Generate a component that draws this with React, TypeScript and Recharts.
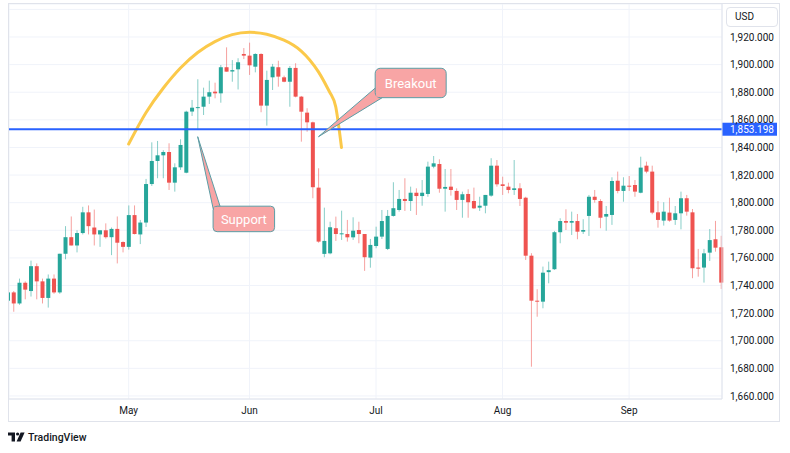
import React from "react";
import {
  ComposedChart,
  Bar,
  Line,
  XAxis,
  YAxis,
  CartesianGrid,
  ReferenceLine,
  ReferenceDot,
} from "recharts";

// trading days per month (2021)
const aprDays = [2, 5, 6, 7, 8, 9, 12, 13, 14, 15, 16, 19, 20, 21, 22, 23, 26, 27, 28, 29, 30];
const mayDays = [3, 4, 5, 6, 7, 10, 11, 12, 13, 14, 17, 18, 19, 20, 21, 24, 25, 26, 27, 28, 31];
const junDays = [1, 2, 3, 4, 7, 8, 9, 10, 11, 14, 15, 16, 17, 18, 21, 22, 23, 24, 25, 28, 29, 30];
const julDays = [1, 2, 5, 6, 7, 8, 9, 12, 13, 14, 15, 16, 19, 20, 21, 22, 23, 26, 27, 28, 29, 30];
const augDays = [2, 3, 4, 5, 6, 9, 10, 11, 12, 13, 16, 17, 18, 19, 20, 23, 24, 25, 26, 27, 30, 31];
const sepDays = [1, 2, 3, 6, 7, 8, 9, 10, 13, 14, 15, 16, 17, 20, 21, 22, 23];

const opens = [
  1729, 1735, 1727, 1742, 1736, 1754, 1743, 1731, 1745, 1735,
  1763, 1775, 1769, 1778, 1793, 1782, 1777, 1780, 1775, 1781,
  1771.5, 1768, 1791, 1777, 1785.6, 1813.5, 1830.2, 1834.3, 1836.7, 1814.5,
  1825.6, 1821.7, 1866, 1868.8, 1869.5, 1876.8, 1880.4, 1879.2, 1898.1, 1895,
  1896.6, 1907.7, 1906.5, 1898.5, 1907.7, 1870.3, 1890.8, 1898.1, 1890.8, 1887.6,
  1897.6, 1876.8, 1865.2, 1858.2, 1810.9, 1762.9, 1763.3, 1781.5, 1777.3, 1777.3,
  1774.9, 1780.2, 1777.3, 1760.2, 1768.6, 1775.4, 1766.5, 1790.4, 1794.7, 1802.7,
  1801.2, 1807.2, 1804.8, 1806.3, 1826.1, 1828, 1810.1, 1811.6, 1808.5, 1802,
  1806.3, 1801.2, 1796.4, 1797.8, 1805.1, 1826.8, 1813.3, 1811.6, 1809.2, 1810.4,
  1803.6, 1761.6, 1729, 1728.3, 1749.7, 1751.8, 1778.6, 1786.7, 1785.5, 1786.7,
  1779, 1790.4, 1804.3, 1801.2, 1789.9, 1791.1, 1815.9, 1808.5, 1812.3, 1812.8,
  1807.2, 1826.8, 1822.5, 1793, 1787, 1792.8, 1787.5, 1792.3, 1803.2, 1793,
  1753, 1753, 1763.8, 1773.5, 1767.7,
];
const highs = [
  1736, 1736, 1745, 1743, 1758, 1756, 1745, 1748, 1748, 1763,
  1783, 1790, 1780, 1797, 1798, 1795, 1780, 1785, 1782, 1790,
  1772, 1798, 1798, 1787.5, 1817.2, 1843.7, 1844.7, 1838, 1843, 1828.5,
  1845.9, 1866.6, 1874.4, 1889.4, 1883.3, 1888.4, 1886.9, 1899.7, 1912.5, 1903.3,
  1904.6, 1912, 1915.9, 1908.2, 1908.2, 1895.6, 1900.5, 1902.8, 1892, 1899,
  1901, 1877.3, 1868.4, 1858.7, 1824.9, 1796.4, 1786.2, 1789.9, 1794.2, 1787.5,
  1789.4, 1786.2, 1777.3, 1773.7, 1782.6, 1794.7, 1794.7, 1814.8, 1809.2, 1817.7,
  1811.6, 1810.4, 1816.4, 1829.7, 1833.8, 1831.4, 1824.4, 1824.4, 1810.4, 1808,
  1809.7, 1810.9, 1804.3, 1805.6, 1832.2, 1830.9, 1818.8, 1814.5, 1830.9, 1814.1,
  1804.3, 1763.4, 1737.3, 1753.7, 1757.3, 1779.5, 1788.7, 1795.2, 1793.5, 1791.8,
  1788, 1805.6, 1809.2, 1802.5, 1797.6, 1818.4, 1822.5, 1818.4, 1819.3, 1816.4,
  1833.3, 1829.7, 1826.8, 1801.2, 1800.3, 1803.6, 1797.6, 1808, 1805.6, 1795.4,
  1766.5, 1766.5, 1780.9, 1786.8, 1776,
];
const lows = [
  1727, 1721, 1726, 1730, 1732, 1730, 1727, 1724, 1734, 1734,
  1759, 1769, 1764, 1777, 1777, 1769, 1768, 1774, 1762, 1756,
  1764, 1766, 1777, 1770, 1782.4, 1812.1, 1817.7, 1817.7, 1809.2, 1808,
  1823.7, 1821.3, 1862.8, 1852.6, 1863.5, 1871.5, 1875.6, 1872.4, 1894.9, 1887.6,
  1882, 1904, 1892.5, 1894.4, 1865.5, 1855.8, 1881.6, 1884, 1887.2, 1869.5,
  1876.3, 1844.2, 1851.4, 1803.2, 1771, 1760.5, 1762.6, 1772.3, 1773, 1771.8,
  1773, 1770.6, 1750.6, 1752.9, 1767, 1773.7, 1765.7, 1789.9, 1793.5, 1794,
  1794, 1791.1, 1797.8, 1804.3, 1824.9, 1807.2, 1793.5, 1805.1, 1794.7, 1789.1,
  1789.1, 1795.4, 1794, 1792.3, 1804.3, 1811.6, 1805.6, 1806.8, 1805.6, 1797.6,
  1758.5, 1681.2, 1717.4, 1723.5, 1741.6, 1751.3, 1770.6, 1780.2, 1776.6, 1773.5,
  1777.3, 1775.9, 1800, 1781.5, 1779.7, 1783.9, 1806.8, 1800.7, 1808.5, 1804.3,
  1806.8, 1821.3, 1791.6, 1781.9, 1783.4, 1786.2, 1783.9, 1780.7, 1790.6, 1745.3,
  1746.4, 1742.1, 1757.8, 1764.5, 1737.5,
];
const closes = [
  1735, 1727, 1742, 1737, 1754, 1743, 1731, 1745, 1735, 1763,
  1775, 1769, 1778, 1793, 1783, 1777, 1780, 1775, 1781, 1771,
  1768, 1791, 1777.3, 1785.6, 1813.5, 1830.2, 1834.3, 1836.7, 1814.5, 1825.6,
  1841.8, 1865.9, 1868.8, 1869.2, 1876.8, 1880, 1879.2, 1898.1, 1894.9, 1896,
  1901.7, 1906.5, 1899.5, 1907.7, 1870.3, 1888.9, 1898.5, 1891.3, 1887.6, 1897.6,
  1876.8, 1865.9, 1858.2, 1811.2, 1771.8, 1772.3, 1782.2, 1777.3, 1777.8, 1774.9,
  1779.7, 1777.3, 1760.5, 1769.4, 1775.4, 1786.7, 1790.4, 1796, 1802.7, 1801.2,
  1807.2, 1804.8, 1807.2, 1826.1, 1828.5, 1810.1, 1811.4, 1809.2, 1802, 1806.1,
  1800.3, 1795.9, 1797.8, 1805.6, 1826.8, 1813.3, 1812.1, 1809.2, 1810.4, 1802.7,
  1761.6, 1729, 1728.3, 1749.3, 1751.1, 1778.6, 1786.7, 1785.5, 1786.7, 1779,
  1780.2, 1804.3, 1802, 1789.1, 1791.8, 1815.7, 1808.5, 1812.3, 1812, 1808,
  1825.4, 1822.5, 1792.8, 1787.5, 1793.5, 1787, 1792.3, 1803.2, 1793.5, 1752.5,
  1752.2, 1763.3, 1772.9, 1767.4, 1742.1,
];

// hand-drawn rounded top
const arcDates = [
  "2021-05-03", "2021-05-06", "2021-05-11", "2021-05-14", "2021-05-19",
  "2021-05-24", "2021-05-27", "2021-06-01", "2021-06-04", "2021-06-09",
  "2021-06-14", "2021-06-17", "2021-06-21", "2021-06-22", "2021-06-23",
];
const arcValues = [
  1842.5, 1865.1, 1882.9, 1897.5, 1908.8, 1916.7, 1921.7, 1923.4, 1922, 1917.7,
  1909.8, 1894.7, 1879.7, 1869.5, 1840,
];

const levelPrice = 1853.198;
const priceTicks = [1660, 1680, 1700, 1720, 1740, 1760, 1780, 1800, 1820, 1840, 1860, 1880, 1900, 1920, 1940];
const monthTicks = ["2021-05-03", "2021-06-01", "2021-07-01", "2021-08-02", "2021-09-01"];
const monthLabels = ["May", "Jun", "Jul", "Aug", "Sep"];

const GREEN = "#26a69a";
const RED = "#ef5350";
const NOTE_FILL = "#f8a5a5";
const NOTE_EDGE = "#5b9ea6";
const FONT = "Roboto, 'Noto Sans', sans-serif";

const pad = (n: number) => (n < 10 ? "0" + n : "" + n);
const dates = [
  ...aprDays.map((d) => `2021-04-${pad(d)}`),
  ...mayDays.map((d) => `2021-05-${pad(d)}`),
  ...junDays.map((d) => `2021-06-${pad(d)}`),
  ...julDays.map((d) => `2021-07-${pad(d)}`),
  ...augDays.map((d) => `2021-08-${pad(d)}`),
  ...sepDays.map((d) => `2021-09-${pad(d)}`),
];

const data = dates.map((date, i) => {
  const a = arcDates.indexOf(date);
  return {
    date,
    open: opens[i],
    high: highs[i],
    low: lows[i],
    close: closes[i],
    arc: a >= 0 ? arcValues[a] : null,
  };
});

const fmtPrice = (v: number) =>
  v.toLocaleString("en-US", { minimumFractionDigits: 3, maximumFractionDigits: 3 });

const Candle = (props: any) => {
  const { x, y, width, height, payload } = props;
  if (!payload) return null;
  const { open, high, low, close } = payload;
  const top = Math.min(y, y + height);
  const h = Math.abs(height);
  const k = high > low ? h / (high - low) : 0;
  const py = (v: number) => top + (high - v) * k;
  const cx = x + width / 2;
  const color = close >= open ? GREEN : RED;
  const bodyTop = py(Math.max(open, close));
  const bodyH = Math.max(1, Math.abs(py(open) - py(close)));
  return (
    <g>
      <line x1={cx} x2={cx} y1={top} y2={top + h} stroke={color} strokeOpacity={0.55} strokeWidth={1} />
      <rect x={cx - 2} y={bodyTop} width={4} height={bodyH} fill={color} />
    </g>
  );
};

const SupportNote = ({ cx, cy }: any) => {
  const bx = cx + 15.4;
  const by = cy + 69.5;
  return (
    <g>
      <polygon
        points={`${cx},${cy} ${cx + 22.5},${by + 0.5} ${cx + 15.6},${by + 3}`}
        fill={NOTE_FILL}
        stroke={NOTE_EDGE}
        strokeWidth={1}
        strokeLinejoin="round"
      />
      <rect x={bx} y={by} width={61.5} height={25.5} rx={4} fill={NOTE_FILL} stroke={NOTE_EDGE} strokeWidth={1} />
      <polygon points={`${bx + 1},${by + 3.5} ${bx + 7},${by + 1} ${bx + 1},${by + 1}`} fill={NOTE_FILL} />
      <text x={bx + 30.75} y={by + 13.2} fill="#ffffff" fontSize={13} fontFamily={FONT} textAnchor="middle" dominantBaseline="central">
        Support
      </text>
    </g>
  );
};

const BreakoutNote = ({ cx, cy }: any) => {
  const bx = cx + 56.7;
  const by = cy - 68.4;
  return (
    <g>
      <polygon
        points={`${cx},${cy} ${bx + 0.5},${cy - 49} ${bx + 7},${cy - 39}`}
        fill={NOTE_FILL}
        stroke={NOTE_EDGE}
        strokeWidth={1}
        strokeLinejoin="round"
      />
      <rect x={bx} y={by} width={71} height={29.4} rx={5} fill={NOTE_FILL} stroke={NOTE_EDGE} strokeWidth={1} />
      <polygon points={`${bx + 1},${cy - 48} ${bx + 1},${cy - 40} ${bx + 6},${cy - 40}`} fill={NOTE_FILL} />
      <text x={bx + 35.5} y={by + 14.9} fill="#ffffff" fontSize={13} fontFamily={FONT} textAnchor="middle" dominantBaseline="central">
        Breakout
      </text>
    </g>
  );
};

const LevelLabel = (props: any) => {
  const vb = props.viewBox || {};
  const x0 = vb.x + vb.width;
  return (
    <g>
      <rect x={x0} y={vb.y - 6.5} width={55} height={13} fill="#2962ff" />
      <text x={x0 + 8} y={vb.y + 0.5} fill="#ffffff" fontSize={10} fontFamily={FONT} dominantBaseline="central">
        {fmtPrice(levelPrice)}
      </text>
    </g>
  );
};

export default function App() {
  return (
    <div style={{ position: "absolute", left: 0, top: 0, width: 790, height: 453, background: "#ffffff", fontFamily: FONT }}>
      <div
        style={{
          position: "absolute",
          left: 8,
          top: 3,
          width: 772,
          height: 419,
          boxSizing: "border-box",
          border: "1px solid #e0e3eb",
          overflow: "hidden",
        }}
      >
        <ComposedChart width={770} height={417} data={data} margin={{ top: 0, right: 0, bottom: 0, left: 0 }}>
          <CartesianGrid stroke="#f0f3fa" />
          <XAxis
            dataKey="date"
            type="category"
            ticks={monthTicks}
            interval={0}
            tickFormatter={(v) => monthLabels[monthTicks.indexOf(v)] || ""}
            height={22}
            padding={{ left: -4, right: -2 }}
            tickSize={0}
            tickMargin={8}
            axisLine={{ stroke: "#e0e3eb" }}
            tickLine={false}
            tick={{ fill: "#131722", fontSize: 10, fontFamily: FONT }}
          />
          <YAxis
            orientation="right"
            type="number"
            domain={[1657.8, 1943.9]}
            ticks={priceTicks}
            width={57}
            tickFormatter={(v) => (v === 1940 ? "" : fmtPrice(v))}
            tickSize={0}
            tickMargin={8}
            axisLine={{ stroke: "#e0e3eb" }}
            tickLine={false}
            tick={{ fill: "#131722", fontSize: 10, fontFamily: FONT, textAnchor: "start" }}
          />
          <Bar dataKey={(d: any) => [d.low, d.high]} barSize={4} shape={(p: any) => <Candle {...p} />} isAnimationActive={false} />
          <Line
            dataKey="arc"
            type="natural"
            connectNulls
            dot={false}
            activeDot={false}
            stroke="#fbc94a"
            strokeWidth={3}
            strokeLinecap="round"
            isAnimationActive={false}
          />
          <ReferenceDot x="2021-05-19" y={1847.8} r={0} ifOverflow="visible" shape={(p: any) => <SupportNote {...p} />} />
          <ReferenceDot x="2021-06-17" y={1847.8} r={0} ifOverflow="visible" shape={(p: any) => <BreakoutNote {...p} />} />
          <ReferenceLine y={levelPrice} stroke="#2962ff" strokeWidth={2} ifOverflow="visible" label={(p: any) => <LevelLabel {...p} />} />
        </ComposedChart>
      </div>
      <div
        style={{
          position: "absolute",
          left: 726,
          top: 7,
          width: 52,
          height: 20,
          boxSizing: "border-box",
          border: "1px solid #e0e3eb",
          borderRadius: 4,
          background: "#ffffff",
          fontSize: 10,
          lineHeight: "18px",
          paddingLeft: 8,
          color: "#131722",
        }}
      >
        USD
      </div>
      <div style={{ position: "absolute", left: 8, top: 430, height: 14, display: "flex", alignItems: "center" }}>
        <svg width={18} height={12} viewBox="0 0 18 12">
          <path d="M0 1.5 H7 V10.5 H3.6 V4.6 H0 Z" fill="#131722" />
          <circle cx={9.6} cy={3} r={1.6} fill="#131722" />
          <path d="M12.6 1.5 H16.6 L12.6 10.5 H8.6 Z" fill="#131722" />
        </svg>
        <span style={{ marginLeft: 2, fontSize: 10.5, fontWeight: 500, color: "#131722" }}>TradingView</span>
      </div>
    </div>
  );
}
